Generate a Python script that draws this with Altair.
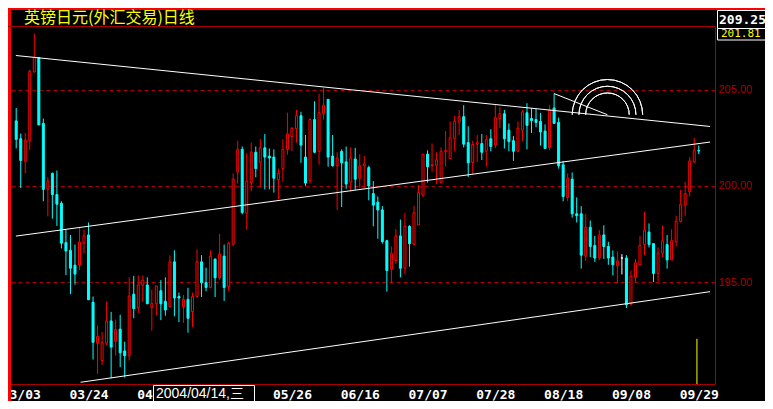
import altair as alt
import pandas as pd

# ---------------- data (GBP/JPY daily, 2004-03-02 .. 2004-09-29) ----------------
day_index = list(range(1, 153))

opens = [203.38, 202.45, 201.28, 202.37, 205.92, 206.67, 203.25, 199.82, 200.65, 199.55,
         199.10, 197.05, 196.65, 195.88, 195.88, 197.02, 197.45, 193.95, 191.82, 190.92,
         191.82, 192.98, 191.92, 192.55, 191.42, 191.17, 194.37, 193.67, 194.83, 194.85,
         193.67, 193.87, 194.55, 194.00, 193.72, 196.05, 194.25, 193.72, 194.10, 193.47,
         194.25, 196.05, 194.97, 194.72, 196.20, 195.22, 196.35, 194.77, 196.97, 200.72,
         201.90, 198.58, 200.17, 201.75, 201.23, 201.98, 201.55, 201.50, 200.32, 200.90,
         201.90, 202.57, 202.97, 203.65, 201.50, 200.27, 203.45, 201.80, 203.75, 204.50,
         201.55, 201.05, 201.80, 201.25, 200.20, 201.40, 200.40, 201.05, 200.95, 199.60,
         199.15, 198.75, 197.15, 195.67, 196.12, 197.40, 195.72, 197.90, 196.97, 197.97,
         199.52, 201.65, 201.05, 201.07, 200.17, 201.80, 201.42, 202.47, 203.32, 203.60,
         202.25, 201.22, 202.17, 202.20, 201.80, 202.45, 202.12, 203.50, 203.75, 202.90,
         202.35, 201.80, 202.90, 203.80, 203.50, 203.45, 203.35, 202.85, 202.00, 204.05,
         203.30, 201.10, 199.40, 200.35, 198.55, 198.55, 196.35, 197.85, 196.90, 196.25,
         197.45, 196.85, 196.30, 195.85, 196.25, 196.25, 193.85, 195.25, 195.90, 196.95,
         197.60, 197.00, 195.45, 196.50, 196.95, 196.15, 197.10, 198.15, 199.00, 199.70,
         201.25, 201.84]

highs = [204.05, 202.72, 202.75, 206.05, 207.92, 206.70, 203.50, 200.45, 200.70, 200.80,
         199.20, 197.72, 197.45, 196.95, 197.82, 197.73, 198.10, 194.25, 192.75, 192.40,
         194.00, 193.45, 193.05, 193.30, 191.90, 195.25, 195.32, 195.35, 195.35, 195.25,
         194.60, 194.80, 195.10, 195.25, 196.38, 196.65, 194.45, 194.33, 194.70, 194.45,
         196.70, 196.40, 195.75, 196.65, 196.20, 197.50, 196.95, 197.10, 200.65, 202.35,
         202.05, 201.70, 202.25, 202.05, 202.43, 202.70, 201.95, 201.90, 200.90, 202.43,
         203.80, 203.05, 203.95, 203.85, 202.65, 203.50, 204.40, 204.80, 205.10, 204.50,
         202.65, 201.75, 201.90, 202.05, 202.00, 201.98, 201.65, 201.55, 201.05, 200.25,
         199.45, 198.95, 197.20, 196.85, 197.75, 198.25, 198.60, 197.95, 198.95, 200.05,
         201.65, 201.85, 202.20, 201.75, 202.00, 202.85, 203.35, 203.65, 203.95, 204.20,
         203.10, 202.35, 202.65, 202.70, 202.65, 202.95, 204.20, 204.10, 203.95, 203.25,
         202.60, 203.35, 203.95, 204.30, 204.05, 204.00, 203.80, 203.20, 204.20, 204.80,
         203.55, 201.30, 200.65, 200.70, 199.40, 198.95, 198.55, 198.20, 197.40, 197.70,
         197.95, 197.10, 196.65, 196.60, 196.45, 196.40, 195.60, 196.20, 197.40, 198.65,
         198.05, 197.00, 196.80, 197.95, 197.45, 197.75, 198.45, 199.80, 200.20, 201.50,
         202.50, 202.10]

lows = [201.95, 199.88, 200.67, 201.87, 205.92, 203.17, 199.20, 198.42, 198.30, 197.92,
        196.75, 195.37, 194.37, 194.87, 195.62, 196.50, 194.08, 190.97, 190.22, 190.70,
        191.72, 190.00, 191.17, 190.58, 190.03, 190.92, 193.12, 193.38, 193.97, 193.87,
        192.47, 193.28, 193.02, 193.25, 193.67, 193.22, 192.92, 192.88, 192.37, 192.67,
        194.25, 194.22, 194.52, 194.67, 194.22, 195.12, 194.02, 194.52, 196.88, 200.12,
        198.52, 197.72, 199.72, 200.45, 199.90, 199.82, 199.82, 199.65, 199.30, 200.22,
        201.62, 201.80, 202.25, 201.20, 200.00, 200.12, 201.70, 201.10, 203.45, 201.00,
        201.00, 198.75, 198.90, 199.85, 199.70, 199.80, 199.90, 199.90, 199.25, 197.90,
        197.25, 197.00, 194.50, 194.95, 195.95, 195.25, 195.40, 195.80, 196.90, 197.97,
        199.42, 200.17, 200.75, 200.10, 200.15, 201.00, 201.40, 201.80, 202.65, 202.00,
        200.47, 200.62, 201.25, 201.35, 201.00, 201.80, 201.95, 203.00, 201.95, 201.80,
        201.30, 201.75, 202.35, 201.90, 202.75, 203.05, 202.10, 201.95, 201.85, 203.25,
        200.90, 199.20, 199.20, 198.35, 198.10, 195.70, 196.10, 196.30, 196.05, 196.15,
        196.20, 195.90, 195.35, 194.95, 195.40, 193.65, 193.80, 195.00, 195.90, 196.40,
        196.80, 195.00, 195.05, 196.30, 195.70, 196.15, 196.85, 198.10, 198.45, 199.45,
        201.20, 201.65]

closes = [202.42, 201.32, 202.38, 205.95, 206.67, 203.17, 199.82, 200.25, 199.55, 199.05,
          197.02, 196.62, 195.72, 195.42, 197.08, 197.40, 194.08, 191.87, 192.18, 191.85,
          192.97, 191.62, 192.53, 191.32, 191.17, 194.28, 193.62, 194.85, 195.10, 193.87,
          193.88, 194.80, 193.87, 193.55, 196.05, 194.17, 194.17, 194.10, 193.12, 194.25,
          196.05, 194.97, 194.72, 196.35, 195.22, 196.45, 194.72, 197.00, 200.35, 201.90,
          198.62, 200.25, 201.75, 200.90, 201.98, 201.50, 201.45, 200.40, 200.65, 201.90,
          202.70, 203.00, 203.65, 202.12, 200.15, 203.45, 201.75, 203.80, 204.20, 201.50,
          201.05, 201.45, 201.20, 200.10, 201.45, 200.35, 201.05, 201.15, 200.00, 199.00,
          198.75, 197.10, 195.60, 196.50, 197.40, 195.72, 197.90, 197.00, 198.60, 199.65,
          201.65, 201.00, 201.10, 201.35, 201.80, 201.85, 202.50, 203.35, 203.60, 202.17,
          201.20, 202.15, 202.25, 201.75, 202.40, 202.05, 203.55, 203.75, 202.45, 202.30,
          201.80, 203.00, 203.85, 203.15, 203.40, 203.30, 202.80, 201.95, 203.95, 203.25,
          201.05, 199.45, 200.40, 198.55, 198.45, 196.40, 197.85, 196.85, 196.25, 197.45,
          196.85, 196.25, 195.90, 196.10, 196.25, 193.82, 195.30, 196.00, 196.90, 197.70,
          196.95, 195.45, 196.50, 197.15, 196.15, 197.15, 198.15, 199.05, 199.60, 201.30,
          201.85, 201.81]

# date ticks visible on the axis (05/05 is hidden under the cursor box in the original)
tick_days = [2, 17, 32, 62, 77, 92, 107, 122, 137, 152]
tick_labels = ["03/03", "03/24", "04/14", "05/26", "06/16",
               "07/07", "07/28", "08/18", "09/08", "09/29"]
price_ticks = [195, 200, 205]

# drawn trend lines: start (day, price) -> end (day, price)
trend_day1 = [0.93, 0.93, 15.24, 120.0]
trend_price1 = [206.78, 197.39, 189.79, 204.80]
trend_day2 = [154.49, 154.49, 154.49, 131.8]
trend_price2 = [203.09, 202.28, 194.50, 203.70]

# Fibonacci arcs centred on the end of the short line
fib_day = [131.8]
fib_price = [203.70]
fib_levels = [0.382, 0.5, 0.618]

marker_day = [151.6]
marker_top = [192.05]
marker_bottom = [189.70]

title_text = "英镑日元(外汇交易)日线"
top_price_text = "209.25"
last_price_text = "201.81"
cursor_text = "2004/04/14,三"

# ---------------- styling ----------------
RED = "#FF0000"
CYAN = "#00FFFF"
DARKRED = "#A80000"
YELLOW = "#FFFF00"
W, H = 707, 376
X_DOM = [0.289, 154.49]
Y_DOM = [189.70, 209.25]
FIB_BASE = 57

xs = alt.Scale(domain=X_DOM, nice=False, zero=False)
ys = alt.Scale(domain=Y_DOM, nice=False, zero=False)

label_expr = " : ".join(f"datum.value == {d} ? '{t}'" for d, t in zip(tick_days, tick_labels)) + " : ''"

x_axis = alt.Axis(
    values=tick_days, labelExpr=label_expr, title=None, grid=False, ticks=False,
    domain=True, domainColor=DARKRED, domainWidth=1, labelColor="white",
    labelFont="DejaVu Sans Mono", labelFontWeight="bold", labelFontSize=13,
    labelPadding=4, labelOverlap=False, labelFlush=False, labelBound=False,
    labelBaseline="top")
y_axis = alt.Axis(
    orient="right", values=price_ticks, format=".2f", title=None, grid=True,
    gridColor=DARKRED, gridDash=[4, 3], gridWidth=1, ticks=False, domain=False,
    labelColor=DARKRED, labelFont="Liberation Sans", labelFontSize=11,
    labelPadding=3, labelBaseline="middle")


def X(field):
    return alt.X(field, scale=xs, axis=x_axis)


def Y(field):
    return alt.Y(field, scale=ys, axis=y_axis)


direction = ["up" if c > o else ("down" if c < o else "flat") for o, c in zip(opens, closes)]
candles = pd.DataFrame({"day": day_index, "open": opens, "high": highs,
                        "low": lows, "close": closes, "dir": direction})
dir_dom = ["up", "down", "flat"]

wicks = alt.Chart(candles).mark_rule(strokeWidth=1).encode(
    x=X("day:Q"), y=Y("low:Q"), y2="high:Q",
    color=alt.Color("dir:N", scale=alt.Scale(domain=dir_dom, range=[RED, CYAN, "#FFFFFF"]), legend=None),
)

bodies = alt.Chart(candles).mark_bar(size=2, strokeWidth=1, orient="vertical").encode(
    x=X("day:Q"), y=Y("open:Q"), y2="close:Q",
    fill=alt.Fill("dir:N", scale=alt.Scale(domain=dir_dom, range=["#000000", CYAN, "#FFFFFF"]), legend=None),
    stroke=alt.Stroke("dir:N", scale=alt.Scale(domain=dir_dom, range=[RED, CYAN, "#FFFFFF"]), legend=None),
)

trend_df = pd.DataFrame({"d1": trend_day1, "p1": trend_price1, "d2": trend_day2, "p2": trend_price2})
trends = alt.Chart(trend_df).mark_rule(color="white", strokeWidth=1).encode(
    x=X("d1:Q"), y=Y("p1:Q"), x2="d2:Q", y2="p2:Q")

fib_df = pd.DataFrame({"day": fib_day, "price": fib_price})
arcs = [
    alt.Chart(fib_df).mark_arc(filled=False, color="white", strokeWidth=1,
                               theta=4.712389, theta2=7.853982,
                               radius=FIB_BASE * lv, radius2=FIB_BASE * lv).encode(
        x=X("day:Q"), y=Y("price:Q"))
    for lv in fib_levels
]

marker_df = pd.DataFrame({"day": marker_day, "top": marker_top, "bottom": marker_bottom})
marker = alt.Chart(marker_df).mark_rule(color=YELLOW, strokeWidth=1).encode(
    x=X("day:Q"), y=Y("top:Q"), y2="bottom:Q")

one = pd.DataFrame({"k": [0]})
base = alt.Chart(one)

left_border = base.mark_rect(color=RED).encode(
    x=alt.value(0), x2=alt.value(3), y=alt.value(0), y2=alt.value(H + 17))
top_border = base.mark_rect(color=RED).encode(
    x=alt.value(0), x2=alt.value(W + 50), y=alt.value(0), y2=alt.value(2))
top_line = base.mark_rule(color=DARKRED, strokeWidth=1).encode(
    x=alt.value(0), x2=alt.value(W), y=alt.value(18.5))
right_line = base.mark_rule(color=DARKRED, strokeWidth=1).encode(
    x=alt.value(W + 0.5), y=alt.value(18.5), y2=alt.value(H))

title = base.mark_text(align="left", baseline="top", font="Noto Sans CJK SC",
                       fontSize=16, color=YELLOW).encode(
    x=alt.value(16), y=alt.value(2), text=alt.value(title_text))

box1 = base.mark_rect(fill="#000000", stroke="white", strokeWidth=1).encode(
    x=alt.value(709.5), x2=alt.value(W + 60), y=alt.value(2.5), y2=alt.value(20.5))
box1_text = base.mark_text(align="left", baseline="middle", font="DejaVu Sans Mono",
                           fontWeight="bold", fontSize=13, color="white").encode(
    x=alt.value(711), y=alt.value(11.5), text=alt.value(top_price_text))
box2 = base.mark_rect(fill="#000000", stroke="white", strokeWidth=1).encode(
    x=alt.value(709.5), x2=alt.value(W + 60), y=alt.value(20.5), y2=alt.value(32))
box2_text = base.mark_text(align="left", baseline="middle", font="DejaVu Sans Mono",
                           fontSize=11, color=YELLOW).encode(
    x=alt.value(713), y=alt.value(26), text=alt.value(last_price_text))

cursor_box = base.mark_rect(fill="#000000", stroke="white", strokeWidth=1).encode(
    x=alt.value(145.5), x2=alt.value(246.5), y=alt.value(377.5), y2=alt.value(H + 25))
cursor_label = base.mark_text(align="left", baseline="middle",
                              font="Liberation Sans, Noto Sans CJK SC",
                              fontSize=14, color="white").encode(
    x=alt.value(148), y=alt.value(385.5), text=alt.value(cursor_text))

chart = alt.layer(
    wicks, bodies, trends, *arcs, marker,
    left_border, top_border, top_line, right_line, title,
    box1, box1_text, box2, box2_text, cursor_box, cursor_label,
).properties(
    width=W, height=H,
    autosize=alt.AutoSizeParams(type="none"),
    padding={"left": 0, "top": 0, "right": 50, "bottom": 17},
).configure(background="#000000").configure_view(strokeWidth=0)

chart.save("out.html", embed_options={"renderer": "svg", "actions": False})
